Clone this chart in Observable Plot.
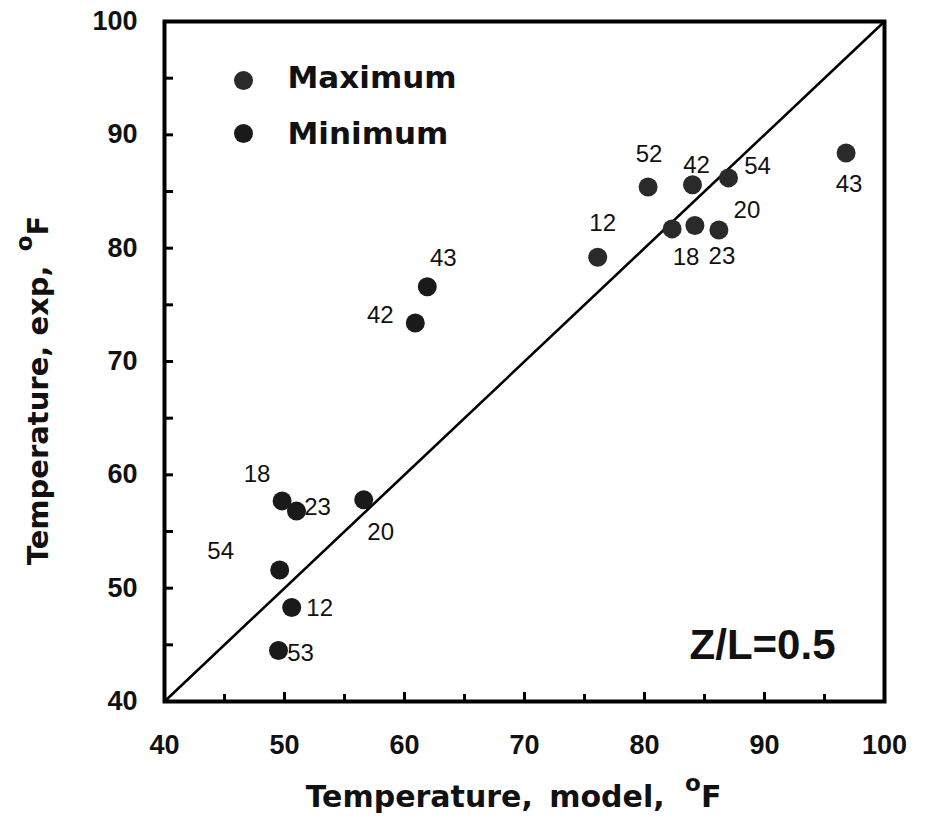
<!DOCTYPE html>
<html>
<head>
<meta charset="utf-8">
<script src="https://cdn.jsdelivr.net/npm/d3@7"></script>
<script src="https://cdn.jsdelivr.net/npm/@observablehq/plot@0.6"></script>
<style>
  html, body { margin: 0; padding: 0; background: #fff; }
  #chart { width: 929px; height: 827px; }
</style>
</head>
<body>
<div id="chart"></div>
<script>
// ---- data ----
const maxX = [76.1, 80.3, 84.0, 87.0, 82.3, 84.2, 86.2, 96.8];
const maxY = [79.2, 85.4, 85.6, 86.2, 81.7, 82.0, 81.6, 88.4];
const maxLabels = ["12", "52", "42", "54", "18", "20", "23", "43"];

const minX = [61.9, 60.9, 49.8, 51.0, 56.6, 49.6, 50.6, 49.5];
const minY = [76.6, 73.4, 57.7, 56.8, 57.8, 51.6, 48.3, 44.5];
const minLabels = ["43", "42", "18", "23", "20", "54", "12", "53"];

const seriesNames = ["Maximum", "Minimum"];
const axisDomain = [40, 100];
const xMajorTicks = [40, 50, 60, 70, 80, 90, 100];
const xMinorTicks = [45, 55, 65, 75, 85, 95];
const yTicks = [45, 50, 55, 60, 65, 70, 75, 80, 85, 90, 95];
const yTickLabels = [40, 50, 60, 70, 80, 90, 100];
const xTitle = "Temperature, model, ^oF";
const yTitle = "Temperature, exp, ^oF";
const annotation = "Z/L=0.5";

// label placement offsets (screen px), styling only
const maxLabelOffsets = [[5,-34],[1,-33],[4,-19],[29,-12],[14,28],[52,-15],[3,26],[3,31]];
const minLabelOffsets = [[16,-28],[-35,-8],[-25,-27],[21,-4],[17,33],[-59,-19],[28,1],[22,3]];

const maxRows = maxX.map((x, i) => ({x, y: maxY[i], label: maxLabels[i], series: "Maximum"}));
const minRows = minX.map((x, i) => ({x, y: minY[i], label: minLabels[i], series: "Minimum"}));

const W = 929, H = 827;
const mL = 164, mR = 45, mT = 21, mB = 126;
const plotW = W - mL - mR, plotH = H - mT - mB;

const tickFont = "'Liberation Sans', Arial, sans-serif";
const titleFont = "'DejaVu Sans', sans-serif";

const labelMarks = [
  ...maxRows.map((r, i) => Plot.text([r], {x: "x", y: "y", text: "label", dx: maxLabelOffsets[i][0], dy: maxLabelOffsets[i][1], fontSize: 24, fontFamily: tickFont, fill: "#111"})),
  ...minRows.map((r, i) => Plot.text([r], {x: "x", y: "y", text: "label", dx: minLabelOffsets[i][0], dy: minLabelOffsets[i][1], fontSize: 24, fontFamily: tickFont, fill: "#111"}))
];

const svg = Plot.plot({
  width: W,
  height: H,
  marginLeft: mL,
  marginRight: mR,
  marginTop: mT,
  marginBottom: mB,
  x: {domain: axisDomain, label: null},
  y: {domain: axisDomain, label: null},
  style: {background: "#fff"},
  marks: [
    // identity line
    Plot.line(axisDomain, {x: d => d, y: d => d, stroke: "#000", strokeWidth: 2.6}),
    // inward ticks
    Plot.tickX(xMajorTicks.slice(1, -1), {x: d => d, insetTop: plotH - 9, stroke: "#000", strokeWidth: 3}),
    Plot.tickX(xMinorTicks, {x: d => d, insetTop: plotH - 7, stroke: "#000", strokeWidth: 3}),
    Plot.tickY(yTicks, {y: d => d, insetRight: plotW - 9, stroke: "#000", strokeWidth: 3}),
    // tick labels
    Plot.axisX(xMajorTicks, {anchor: "bottom", label: null, tickSize: 0, tickPadding: 33, fontSize: 27, fontWeight: "bold", fontFamily: tickFont, fill: "#111"}),
    Plot.axisY(yTickLabels, {anchor: "left", label: null, tickSize: 0, tickPadding: 27, fontSize: 27, fontWeight: "bold", fontFamily: tickFont, fill: "#111"}),
    // data
    Plot.dot(maxRows, {x: "x", y: "y", r: 9.5, fill: "#2a2a2a"}),
    Plot.dot(minRows, {x: "x", y: "y", r: 9.5, fill: "#1a1a1a"}),
    ...labelMarks,
    // legend
    Plot.dot([seriesNames[0]], {frameAnchor: "top-left", dx: 79, dy: 59, r: 9.5, fill: "#2a2a2a"}),
    Plot.dot([seriesNames[1]], {frameAnchor: "top-left", dx: 79, dy: 112, r: 9.5, fill: "#1a1a1a"}),
    Plot.text([seriesNames[0]], {text: d => d, frameAnchor: "top-left", dx: 123, dy: 57, textAnchor: "start", lineAnchor: "middle", fontSize: 31, fontWeight: "bold", fontFamily: titleFont, fill: "#111"}),
    Plot.text([seriesNames[1]], {text: d => d, frameAnchor: "top-left", dx: 123, dy: 113, textAnchor: "start", lineAnchor: "middle", fontSize: 31, fontWeight: "bold", fontFamily: titleFont, fill: "#111"}),
    // annotation
    Plot.text([annotation], {text: d => d, frameAnchor: "bottom-right", dx: -49, dy: -43, textAnchor: "end", lineAnchor: "bottom", fontSize: 42, fontWeight: "bold", fontFamily: tickFont, fill: "#111"}),
    // axis titles
    Plot.text([xTitle], {text: d => d, frameAnchor: "bottom", dx: -11, dy: 105, textAnchor: "middle", lineAnchor: "bottom", fontSize: 30, fontWeight: "bold", fontFamily: titleFont, fill: "#111", style: "word-spacing: 6px"}),
    Plot.text([yTitle], {text: d => d, frameAnchor: "left", dx: -126, dy: 29, rotate: -90, textAnchor: "middle", lineAnchor: "middle", fontSize: 29, fontWeight: "bold", fontFamily: titleFont, fill: "#111"}),
    // frame
    Plot.frame({stroke: "#000", strokeWidth: 4})
  ]
});

// superscript "o" in axis titles
const ns = "http://www.w3.org/2000/svg";
svg.querySelectorAll("text").forEach(t => {
  const s = t.textContent;
  const i = s.indexOf("^o");
  if (i < 0) return;
  while (t.firstChild) t.removeChild(t.firstChild);
  const a = document.createElementNS(ns, "tspan"); a.textContent = s.slice(0, i);
  const b = document.createElementNS(ns, "tspan"); b.textContent = "o"; b.setAttribute("font-size", "23"); b.setAttribute("dy", "-16"); b.setAttribute("dx", "4");
  const c = document.createElementNS(ns, "tspan"); c.textContent = s.slice(i + 2); c.setAttribute("dy", "16");
  t.append(a, b, c);
});
svg.querySelectorAll("text").forEach(t => {
  if (t.textContent.startsWith("Temperature, model")) t.setAttribute("word-spacing", "6");
});

document.getElementById("chart").appendChild(svg);
</script>
</body>
</html>
